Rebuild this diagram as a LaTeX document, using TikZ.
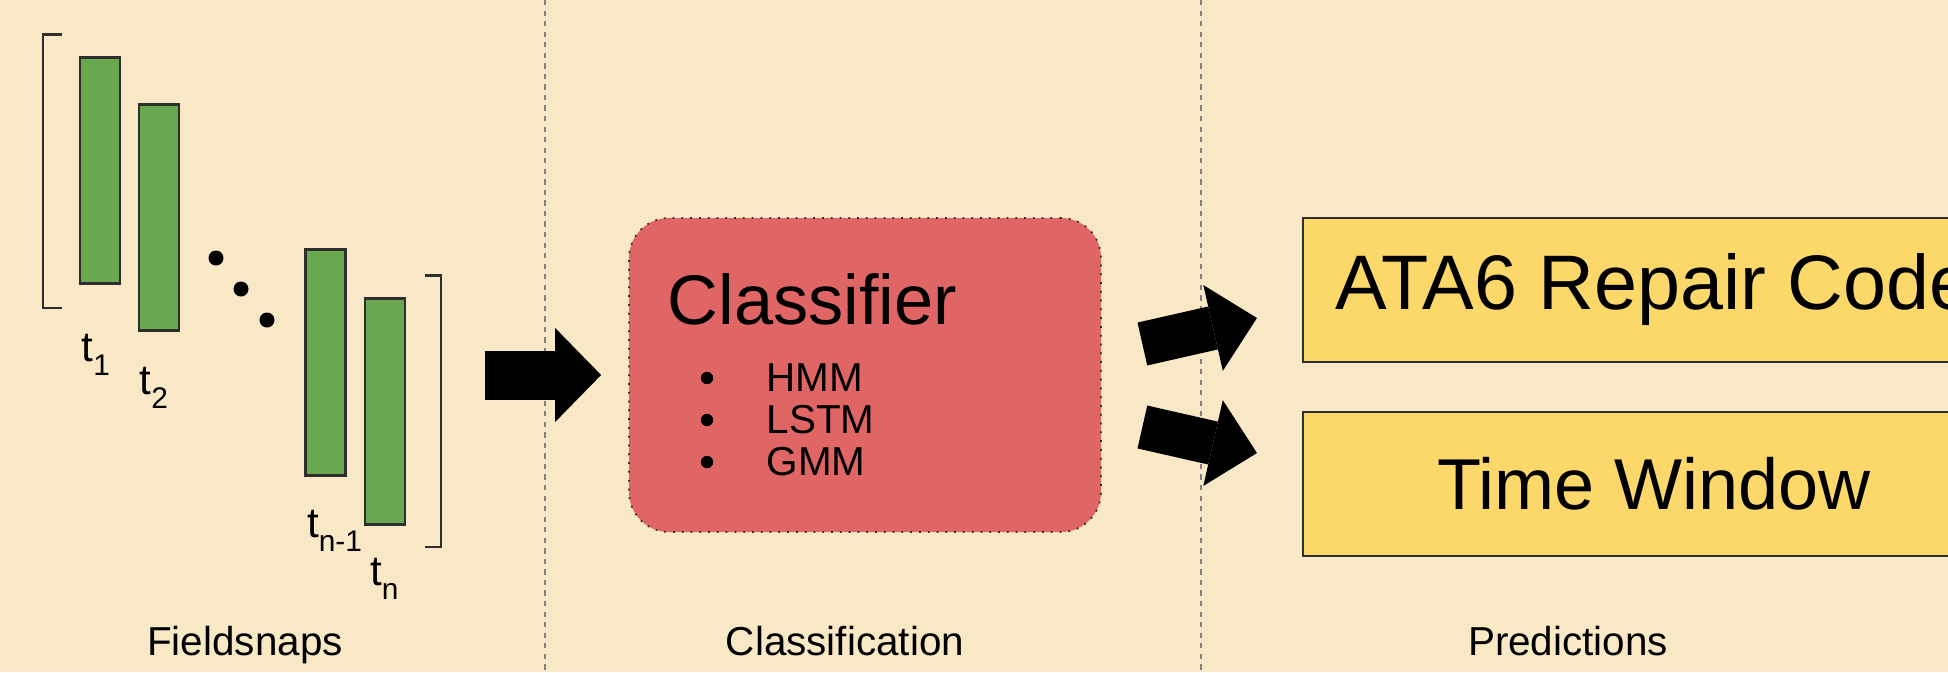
\documentclass[tikz,border=0pt]{standalone}
\usepackage{fontspec}
\setmainfont{Liberation Sans}
\usetikzlibrary{arrows.meta, positioning, calc}

\definecolor{paper}{HTML}{F9E8C5}
\definecolor{snapgreen}{HTML}{6AA84F}
\definecolor{clfred}{HTML}{E06666}
\definecolor{predyellow}{HTML}{FCD86A}
\definecolor{edge}{HTML}{2E2E2E}

% time stamp with a lowered index
\newcommand{\stamp}[1]{t\raisebox{-4pt}{\fontsize{8.5}{10}\selectfont #1}}

\begin{document}
\begin{tikzpicture}[
  snap/.style={rectangle, draw=edge, line width=0.6pt, fill=snapgreen,
    minimum width=0.4cm, minimum height=2.26cm, inner sep=0pt},
  tlabel/.style={inner sep=0pt, anchor=base west, font=\fontsize{12}{14}\selectfont},
  caption/.style={inner sep=0pt, anchor=base, font=\fontsize{11.5}{14}\selectfont},
  item/.style={inner sep=0pt, anchor=west, font=\fontsize{11.5}{14}\selectfont},
  pred/.style={rectangle, draw=edge, line width=0.6pt, fill=predyellow,
    minimum width=7.02cm, minimum height=1.44cm},
  block arrow/.style={line width=0.44cm,
    -{Triangle[length=0.45cm, width=0.88cm, line width=0pt]}},
  bracket/.style={draw=edge, line width=0.6pt},
  divider/.style={draw=gray, line width=0.5pt, dash pattern=on 1.5pt off 1.5pt}]

  \useasboundingbox (0,0) rectangle (19.48,-6.72);
  \clip (0,0) rectangle (19.48,-6.72);
  \fill[paper] (0,0) rectangle (19.48,-6.72);
  \draw[divider] (5.45,0) -- (5.45,-6.72);
  \draw[divider] (12.01,0) -- (12.01,-6.72);

  % snapshots t_1 ... t_n
  \node[snap] (s1) at (1.00,-1.705) {};
  \node[snap, anchor=north west] (s2) at ([xshift=1.7mm,yshift=-4.7mm]s1.north east) {};
  \node[snap] (sn1) at (3.255,-3.625) {};
  \node[snap, anchor=north west] (sn) at ([xshift=1.7mm,yshift=-4.9mm]sn1.north east) {};
  \foreach \x/\y in {2.16/2.58, 2.41/2.89, 2.67/3.20}
    \fill (\x,-\y) circle (0.075);

  \node[tlabel] (l1) at ([xshift=0.2mm,yshift=-7.7mm]s1.south west) {\stamp{1}};
  \node[tlabel] (l2) at ([xshift=0.1mm,yshift=-6.3mm]s2.south west) {\stamp{2}};
  \node[tlabel] (ln1) at ([xshift=0.2mm,yshift=-6.1mm]sn1.south west) {\stamp{n-1}};
  \node[tlabel] (ln) at ([xshift=0.6mm,yshift=-6.0mm]sn.south west) {\stamp{n}};

  \draw[bracket] ($(s1.north west)+(-0.17,0.22)$) -- ++(-0.19,0)
    |- ($(s1.south west)+(-0.17,-0.23)$);
  \draw[bracket] ($(sn.north east)+(0.19,0.22)$) -- ++(0.16,0)
    |- ($(sn.south east)+(0.19,-0.21)$);
  \coordinate (rb) at ($(sn.east)+(0.35,0)$);

  % classifier
  \node[draw=edge, line width=0.5pt, dotted, fill=clfred, rounded corners=0.4cm,
    minimum width=4.72cm, minimum height=3.14cm] (clf) at (8.65,-3.75) {};
  \node[inner sep=0pt, anchor=base west, font=\fontsize{20}{24}\selectfont]
    (clftitle) at ([xshift=3.9mm,yshift=-10.7mm]clf.north west) {Classifier};
  \foreach \name [count=\i] in {HMM,LSTM,GMM}{
    \fill (7.07,-3.78-0.42*\i+0.42) circle (0.062);
    \node[item] (m\i) at (7.66,-3.78-0.42*\i+0.42) {\name};
  }

  % predictions
  \node[pred, font=\fontsize{22}{26}\selectfont] (code) at (16.54,-2.90) {ATA6 Repair Code};
  \node[pred, font=\fontsize{20.5}{24}\selectfont] (window) at (16.54,-4.84) {Time Window};

  \coordinate (up tail) at ($(clf.east)+(0.405,0.31)$);
  \coordinate (up tip) at ($(code.west)+(-0.45,-0.28)$);
  \coordinate (lo tail) at ($(clf.east)+(0.405,-0.52)$);
  \coordinate (lo tip) at ($(window.west)+(-0.45,0.31)$);

  \draw[block arrow, line width=0.49cm,
    -{Triangle[length=0.46cm, width=0.94cm, line width=0pt]},
    shorten <=4.4mm, shorten >=2.7mm] (rb |- clf.west) -- (clf.west);
  \draw[block arrow] (up tail) -- (up tip);
  \draw[block arrow] (lo tail) -- (lo tip);

  % column captions
  \node[caption] (capsnaps) at (2.45,-6.55) {Fieldsnaps};
  \node[caption] (capclf) at (8.45,-6.55) {Classification};
  \node[caption] (cappred) at (15.68,-6.55) {Predictions};
\end{tikzpicture}
\end{document}
